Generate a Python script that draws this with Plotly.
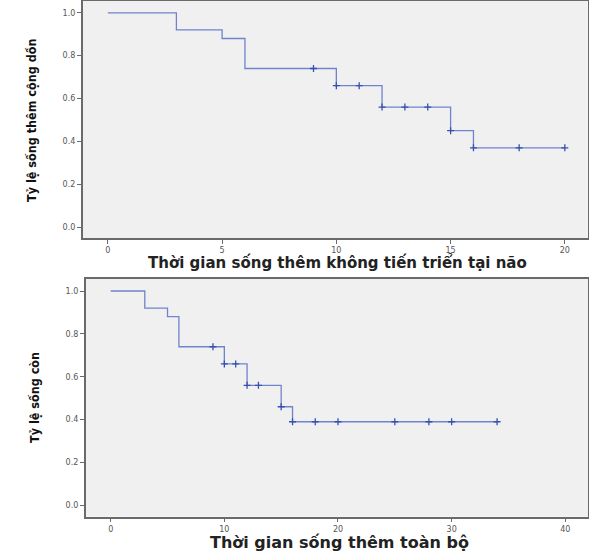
import plotly.graph_objects as go

# --- Panel 1: progression-free survival (brain) ---
pfs_event_time = [0, 3, 5, 6, 10, 12, 15, 16, 20]
pfs_surv = [1.0, 0.92, 0.88, 0.74, 0.66, 0.56, 0.45, 0.37, 0.37]
pfs_cens_time = [9, 10, 11, 12, 13, 14, 15, 16, 18, 20]
pfs_cens_surv = [0.74, 0.66, 0.66, 0.56, 0.56, 0.56, 0.45, 0.37, 0.37, 0.37]

# --- Panel 2: overall survival ---
os_event_time = [0, 3, 5, 6, 10, 12, 15, 16, 34]
os_surv = [1.0, 0.92, 0.88, 0.74, 0.66, 0.56, 0.46, 0.39, 0.39]
os_cens_time = [9, 10, 11, 12, 13, 15, 16, 18, 20, 25, 28, 30, 34]
os_cens_surv = [0.74, 0.66, 0.66, 0.56, 0.56, 0.46, 0.39, 0.39, 0.39, 0.39, 0.39, 0.39, 0.39]

y_ticks = [0.0, 0.2, 0.4, 0.6, 0.8, 1.0]
y_tick_text = ["0.0", "0.2", "0.4", "0.6", "0.8", "1.0"]
x1_ticks = [0, 5, 10, 15, 20]
x2_ticks = [0, 10, 20, 30, 40]

line_col = "#6f84cc"
mark_col = "#3550b0"

fig = go.Figure()
fig.add_trace(go.Scatter(x=pfs_event_time, y=pfs_surv, mode="lines", line_shape="hv",
                         line=dict(color=line_col, width=1.3), xaxis="x", yaxis="y",
                         showlegend=False, hoverinfo="skip"))
fig.add_trace(go.Scatter(x=pfs_cens_time, y=pfs_cens_surv, mode="markers",
                         marker=dict(symbol="cross-thin", size=5, line=dict(color=mark_col, width=1.3)),
                         xaxis="x", yaxis="y", showlegend=False))
fig.add_trace(go.Scatter(x=os_event_time, y=os_surv, mode="lines", line_shape="hv",
                         line=dict(color=line_col, width=1.3), xaxis="x2", yaxis="y2",
                         showlegend=False, hoverinfo="skip"))
fig.add_trace(go.Scatter(x=os_cens_time, y=os_cens_surv, mode="markers",
                         marker=dict(symbol="cross-thin", size=5, line=dict(color=mark_col, width=1.3)),
                         xaxis="x2", yaxis="y2", showlegend=False))

W, H = 589, 551
tickfont = dict(family="DejaVu Sans", size=8, color="#555555")
axis_common = dict(showgrid=False, zeroline=False, showline=True, linecolor="#6a6a6a",
                   linewidth=1.5, mirror=True, ticks="outside", ticklen=4, tickcolor="#6a6a6a",
                   tickfont=tickfont)

fig.update_layout(
    width=W, height=H,
    margin=dict(l=0, r=0, t=0, b=0),
    paper_bgcolor="white",
    plot_bgcolor="#f0f0f0",
    xaxis=dict(domain=[82.7 / W, 587.7 / W], range=[-1.1, 21], tickvals=x1_ticks,
               anchor="y", **axis_common),
    yaxis=dict(domain=[1 - 238 / H, 1 - 1 / H], range=[-0.051, 1.055], tickvals=y_ticks,
               ticktext=y_tick_text, anchor="x", **axis_common),
    xaxis2=dict(domain=[85.7 / W, 588 / W], range=[-2.2, 42], tickvals=x2_ticks,
                anchor="y2", **axis_common),
    yaxis2=dict(domain=[1 - 516.7 / H, 1 - 279 / H], range=[-0.053, 1.056], tickvals=y_ticks,
                ticktext=y_tick_text, anchor="x2", **axis_common),
)

title_font_y = dict(family="DejaVu Sans Condensed, Liberation Sans Narrow, DejaVu Sans", size=12.5, color="#111111")

fig.add_annotation(text="<b>Thời gian sống thêm không tiến triển tại não</b>", x=337 / W, y=1 - 262.5 / H,
                   xref="paper", yref="paper", showarrow=False,
                   font=dict(family="DejaVu Sans", size=15, color="#222222"),
                   xanchor="center", yanchor="middle")
fig.add_annotation(text="<b>Thời gian sống thêm toàn bộ</b>", x=339 / W, y=1 - 542.5 / H,
                   xref="paper", yref="paper", showarrow=False,
                   font=dict(family="DejaVu Sans", size=16, color="#222222"),
                   xanchor="center", yanchor="middle")
fig.add_annotation(text="<b>Tỷ lệ sống thêm cộng dồn</b>", x=31 / W, y=1 - 120 / H,
                   xref="paper", yref="paper", showarrow=False, font=title_font_y,
                   textangle=-90, xanchor="center", yanchor="middle")
fig.add_annotation(text="<b>Tỷ lệ sống còn</b>", x=34 / W, y=1 - 398 / H,
                   xref="paper", yref="paper", showarrow=False, font=title_font_y,
                   textangle=-90, xanchor="center", yanchor="middle")

fig.write_html("out.html", config={"displayModeBar": False},
               post_script="document.body.style.margin='0';document.body.style.overflow='hidden';")
